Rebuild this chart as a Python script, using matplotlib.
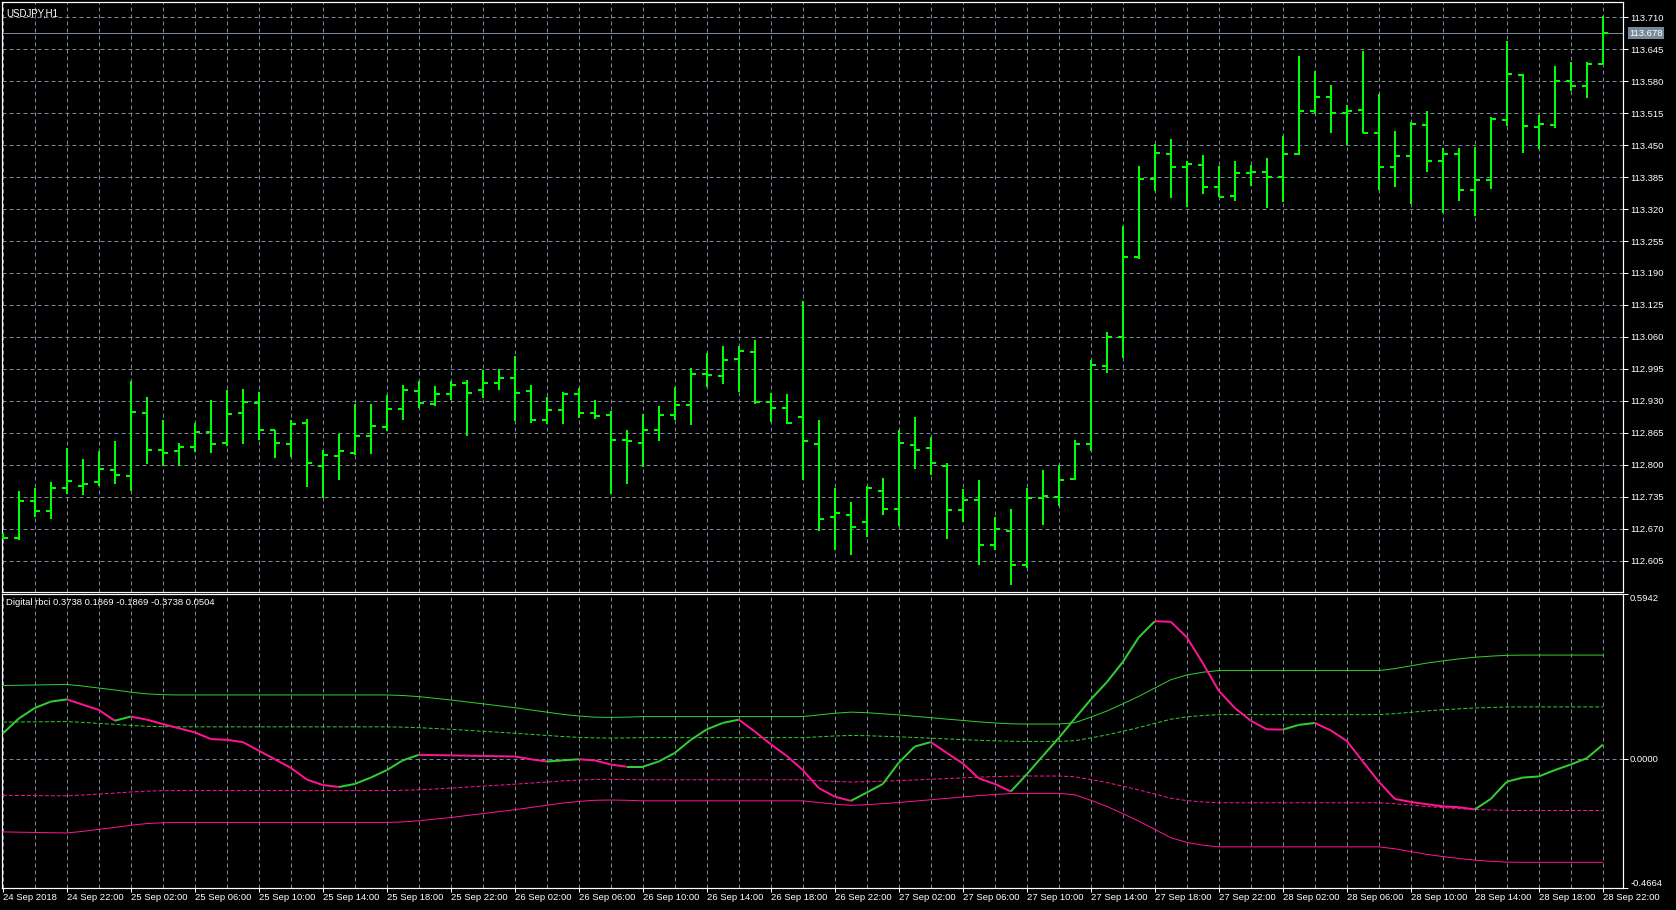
import numpy as np
import pandas as pd
import matplotlib
matplotlib.use("Agg")
import matplotlib.pyplot as plt
from matplotlib.collections import LineCollection

# ---- data (USDJPY H1, 24 Sep 18:00 .. 28 Sep 22:00) ----
start_time = "2018-09-24 18:00"

bar_open = [112.655, 112.651, 112.726, 112.706, 112.753, 112.757, 112.765, 112.789, 112.777, 112.905,
            112.830, 112.828, 112.836, 112.866, 112.844, 112.905, 112.925, 112.870, 112.842, 112.885,
            112.797, 112.818, 112.824, 112.858, 112.877, 112.913, 112.950, 112.923, 112.944, 112.966,
            112.952, 112.966, 112.976, 112.950, 112.891, 112.911, 112.944, 112.905, 112.901, 112.850,
            112.844, 112.870, 112.901, 112.921, 112.984, 112.980, 113.015, 113.029, 112.927, 112.915,
            112.897, 112.842, 112.693, 112.697, 112.683, 112.747, 112.709, 112.841, 112.835, 112.797,
            112.707, 112.728, 112.636, 112.665, 112.596, 112.732, 112.734, 112.770, 112.843, 113.001,
            113.060, 113.223, 113.382, 113.432, 113.405, 113.409, 113.365, 113.347, 113.394, 113.396,
            113.386, 113.431, 113.520, 113.547, 113.516, 113.522, 113.474, 113.405, 113.427, 113.490,
            113.417, 113.431, 113.358, 113.380, 113.502, 113.592, 113.486, 113.490, 113.581, 113.571,
            113.616]
bar_high = [112.662, 112.746, 112.752, 112.764, 112.835, 112.811, 112.827, 112.849, 112.971, 112.937,
            112.890, 112.845, 112.884, 112.931, 112.951, 112.955, 112.947, 112.870, 112.892, 112.894,
            112.831, 112.862, 112.923, 112.923, 112.941, 112.963, 112.971, 112.961, 112.971, 112.973,
            112.992, 112.994, 113.022, 112.963, 112.937, 112.947, 112.956, 112.931, 112.909, 112.870,
            112.904, 112.919, 112.959, 112.996, 113.028, 113.042, 113.042, 113.053, 112.945, 112.943,
            113.132, 112.892, 112.753, 112.724, 112.757, 112.773, 112.871, 112.898, 112.857, 112.803,
            112.750, 112.768, 112.694, 112.709, 112.752, 112.789, 112.800, 112.851, 113.013, 113.070,
            113.286, 113.407, 113.452, 113.462, 113.418, 113.430, 113.407, 113.418, 113.410, 113.424,
            113.469, 113.631, 113.601, 113.572, 113.532, 113.642, 113.554, 113.479, 113.497, 113.520,
            113.445, 113.445, 113.447, 113.508, 113.662, 113.595, 113.512, 113.611, 113.619, 113.619,
            113.713]
bar_low = [112.648, 112.646, 112.694, 112.689, 112.740, 112.738, 112.757, 112.761, 112.747, 112.801,
           112.797, 112.797, 112.825, 112.823, 112.839, 112.843, 112.851, 112.813, 112.815, 112.754,
           112.732, 112.768, 112.819, 112.821, 112.868, 112.890, 112.915, 112.919, 112.931, 112.858,
           112.935, 112.952, 112.889, 112.885, 112.883, 112.883, 112.895, 112.893, 112.740, 112.761,
           112.795, 112.848, 112.891, 112.881, 112.959, 112.964, 112.948, 112.923, 112.887, 112.883,
           112.769, 112.665, 112.626, 112.616, 112.654, 112.697, 112.675, 112.791, 112.780, 112.650,
           112.683, 112.596, 112.626, 112.555, 112.589, 112.678, 112.717, 112.769, 112.827, 112.986,
           113.017, 113.218, 113.357, 113.343, 113.324, 113.351, 113.344, 113.336, 113.367, 113.323,
           113.334, 113.430, 113.513, 113.474, 113.451, 113.474, 113.359, 113.364, 113.330, 113.395,
           113.313, 113.336, 113.305, 113.360, 113.488, 113.433, 113.443, 113.484, 113.561, 113.545,
           113.616]
bar_close = [112.651, 112.726, 112.706, 112.753, 112.767, 112.761, 112.791, 112.779, 112.907, 112.830,
             112.824, 112.836, 112.866, 112.842, 112.903, 112.927, 112.870, 112.844, 112.883, 112.803,
             112.820, 112.828, 112.858, 112.879, 112.913, 112.952, 112.925, 112.944, 112.962, 112.946,
             112.966, 112.976, 112.946, 112.891, 112.911, 112.944, 112.905, 112.899, 112.850, 112.848,
             112.870, 112.901, 112.921, 112.984, 112.982, 113.013, 113.031, 112.927, 112.915, 112.885,
             112.848, 112.690, 112.701, 112.673, 112.753, 112.709, 112.845, 112.830, 112.803, 112.707,
             112.728, 112.636, 112.669, 112.596, 112.732, 112.736, 112.769, 112.843, 113.003, 113.060,
             113.223, 113.382, 113.434, 113.405, 113.411, 113.365, 113.345, 113.394, 113.396, 113.386,
             113.431, 113.520, 113.547, 113.516, 113.520, 113.474, 113.405, 113.427, 113.492, 113.417,
             113.431, 113.358, 113.380, 113.504, 113.594, 113.488, 113.492, 113.581, 113.571, 113.616,
             113.678]
bid_price = 113.678

# Digital rbci main line
rbci = [0.091, 0.145, 0.183, 0.206, 0.214, 0.195, 0.176, 0.137, 0.152, 0.141,
        0.125, 0.110, 0.095, 0.071, 0.068, 0.060, 0.029, -0.002, -0.033, -0.075,
        -0.095, -0.102, -0.091, -0.068, -0.041, -0.006, 0.014, 0.013, 0.012, 0.011,
        0.010, 0.009, 0.008, -0.002, -0.010, -0.006, -0.002, -0.006, -0.021, -0.029,
        -0.029, -0.010, 0.021, 0.068, 0.106, 0.129, 0.141, 0.098, 0.052, 0.010,
        -0.041, -0.106, -0.137, -0.152, -0.122, -0.091, -0.014, 0.044, 0.060, 0.021,
        -0.017, -0.071, -0.091, -0.118, -0.056, 0.010, 0.075, 0.145, 0.214, 0.276,
        0.349, 0.438, 0.496, 0.494, 0.438, 0.345, 0.245, 0.183, 0.137, 0.106,
        0.105, 0.122, 0.129, 0.102, 0.064, -0.010, -0.083, -0.145, -0.156, -0.164,
        -0.172, -0.175, -0.183, -0.145, -0.083, -0.068, -0.064, -0.041, -0.021, 0.002,
        0.0504]
# upper band (lower band is its mirror, dashed levels are half of it)
band = [0.264, 0.265, 0.266, 0.267, 0.268, 0.262, 0.255, 0.248, 0.240, 0.234,
        0.231, 0.230, 0.230, 0.230, 0.230, 0.230, 0.230, 0.230, 0.230, 0.230,
        0.230, 0.230, 0.230, 0.230, 0.230, 0.228, 0.224, 0.218, 0.212, 0.205,
        0.198, 0.191, 0.184, 0.176, 0.168, 0.160, 0.154, 0.150, 0.149, 0.150,
        0.152, 0.152, 0.152, 0.152, 0.152, 0.152, 0.152, 0.152, 0.152, 0.152,
        0.152, 0.158, 0.164, 0.168, 0.166, 0.162, 0.158, 0.153, 0.148, 0.143,
        0.138, 0.133, 0.129, 0.126, 0.125, 0.125, 0.125, 0.130, 0.150, 0.172,
        0.198, 0.225, 0.255, 0.285, 0.302, 0.312, 0.318, 0.318, 0.318, 0.318,
        0.318, 0.318, 0.318, 0.318, 0.318, 0.318, 0.318, 0.325, 0.335, 0.345,
        0.353, 0.360, 0.366, 0.370, 0.373, 0.3738, 0.3738, 0.3738, 0.3738, 0.3738,
        0.3738]

W, H = 1676, 910
GRID = "#778899"
BAR_COL = "#00ff00"
UP_COL = "#32cd32"
DN_COL = "#ff1493"
FONT = "Liberation Sans"
FS = 6.8
PX = 0.72  # one pixel in points at dpi 100

n = len(bar_close)
x = np.arange(n)
times = pd.date_range(start_time, periods=n, freq="h")

fig = plt.figure(figsize=(W / 100, H / 100), dpi=100, facecolor="black")
ax1 = fig.add_axes([2 / W, 1 - 592 / H, 1621 / W, 590 / H])
ax2 = fig.add_axes([2 / W, 1 - 888 / H, 1621 / W, 294 / H])

xlim = (-0.8 / 16, (1623 - 2.8) / 16)
for ax in (ax1, ax2):
    ax.set_facecolor("black")
    ax.set_xlim(*xlim)
    for s in ax.spines.values():
        s.set_color("white")
        s.set_linewidth(PX * 1.2)
    ax.yaxis.tick_right()
    ax.tick_params(axis="y", colors="white", length=5 * PX, width=PX, pad=1.5,
                   labelsize=FS, labelfontfamily=FONT)
    ax.set_xticks(np.arange(2, n, 2), minor=True)
    ax.tick_params(axis="x", which="minor", length=0)
    ax.grid(True, which="both", color=GRID, linestyle=(0, (4, 3)), linewidth=PX, zorder=0)

# ---- price panel: OHLC bars ----
ax1.set_ylim(112.5412, 113.7411)
ticks = np.round(112.605 + 0.065 * np.arange(18), 3)
ax1.set_yticks(ticks)
ax1.set_yticklabels([f"{t:.3f}" for t in ticks])
ax1.set_xticks(np.arange(0, n, 4))
ax1.tick_params(axis="x", which="major", length=0, labelbottom=False)

tick_w = 0.33
ax1.vlines(x, bar_low, bar_high, color=BAR_COL, linewidth=2 * PX, zorder=3)
ax1.hlines(bar_open, x - tick_w, x, color=BAR_COL, linewidth=2 * PX, zorder=3)
ax1.hlines(bar_close, x, x + tick_w, color=BAR_COL, linewidth=2 * PX, zorder=3)

ax1.axhline(bid_price, color=GRID, linewidth=PX, zorder=2)
ax1.text(1.004, bid_price, f"{bid_price:.3f}", transform=ax1.get_yaxis_transform(),
         ha="left", va="center", fontsize=FS, family=FONT, color="white",
         bbox=dict(boxstyle="square,pad=0.15", facecolor=GRID, edgecolor="none"))
ax1.text(4 / 1621, 1 - 6 / 590, "USDJPY,H1", transform=ax1.transAxes, ha="left", va="top",
         fontsize=FS + 0.2, family=FONT, color="white")

# ---- indicator panel ----
ymin, ymax = -0.4664, 0.5942
ax2.set_ylim(ymin, ymax)
ax2.set_yticks([ymin, 0.0, ymax])
ax2.set_yticklabels([f"{ymin:.4f}", "0.0000", f"{ymax:.4f}"])
lbls = ax2.get_yticklabels()
lbls[0].set_verticalalignment("bottom")
lbls[2].set_verticalalignment("top")
ax2.set_xticks(np.arange(0, n, 4))
xl = [times[0].strftime("%d Sep %Y")] + [t.strftime("%d Sep %H:%M") for t in times[4::4]]
ax2.set_xticklabels(xl)
ax2.tick_params(axis="x", which="major", colors="white", length=4 * PX, width=PX, pad=1,
                labelsize=FS, labelfontfamily=FONT)
for t in ax2.get_xticklabels():
    t.set_horizontalalignment("left")

band = np.array(band)
ax2.plot(x, band, color=UP_COL, linewidth=PX, zorder=3)
ax2.plot(x, band / 2, color=UP_COL, linewidth=PX, linestyle=(0, (4, 2)), zorder=3)
ax2.plot(x, -band / 2, color=DN_COL, linewidth=PX, linestyle=(0, (4, 2)), zorder=3)
ax2.plot(x, -band, color=DN_COL, linewidth=PX, zorder=3)

r = np.array(rbci)
segs = np.stack([np.column_stack([x[:-1], r[:-1]]), np.column_stack([x[1:], r[1:]])], axis=1)
cols = [UP_COL if b >= a else DN_COL for a, b in zip(r[:-1], r[1:])]
ax2.add_collection(LineCollection(segs, colors=cols, linewidths=2 * PX, zorder=4))

ax2.text(4 / 1621, 1 - 4 / 294, "Digital rbci 0.3738 0.1869 -0.1869 -0.3738 0.0504",
         transform=ax2.transAxes, ha="left", va="top", fontsize=FS, family=FONT, color="white")

fig.savefig("out.png", dpi=100, facecolor="black")
